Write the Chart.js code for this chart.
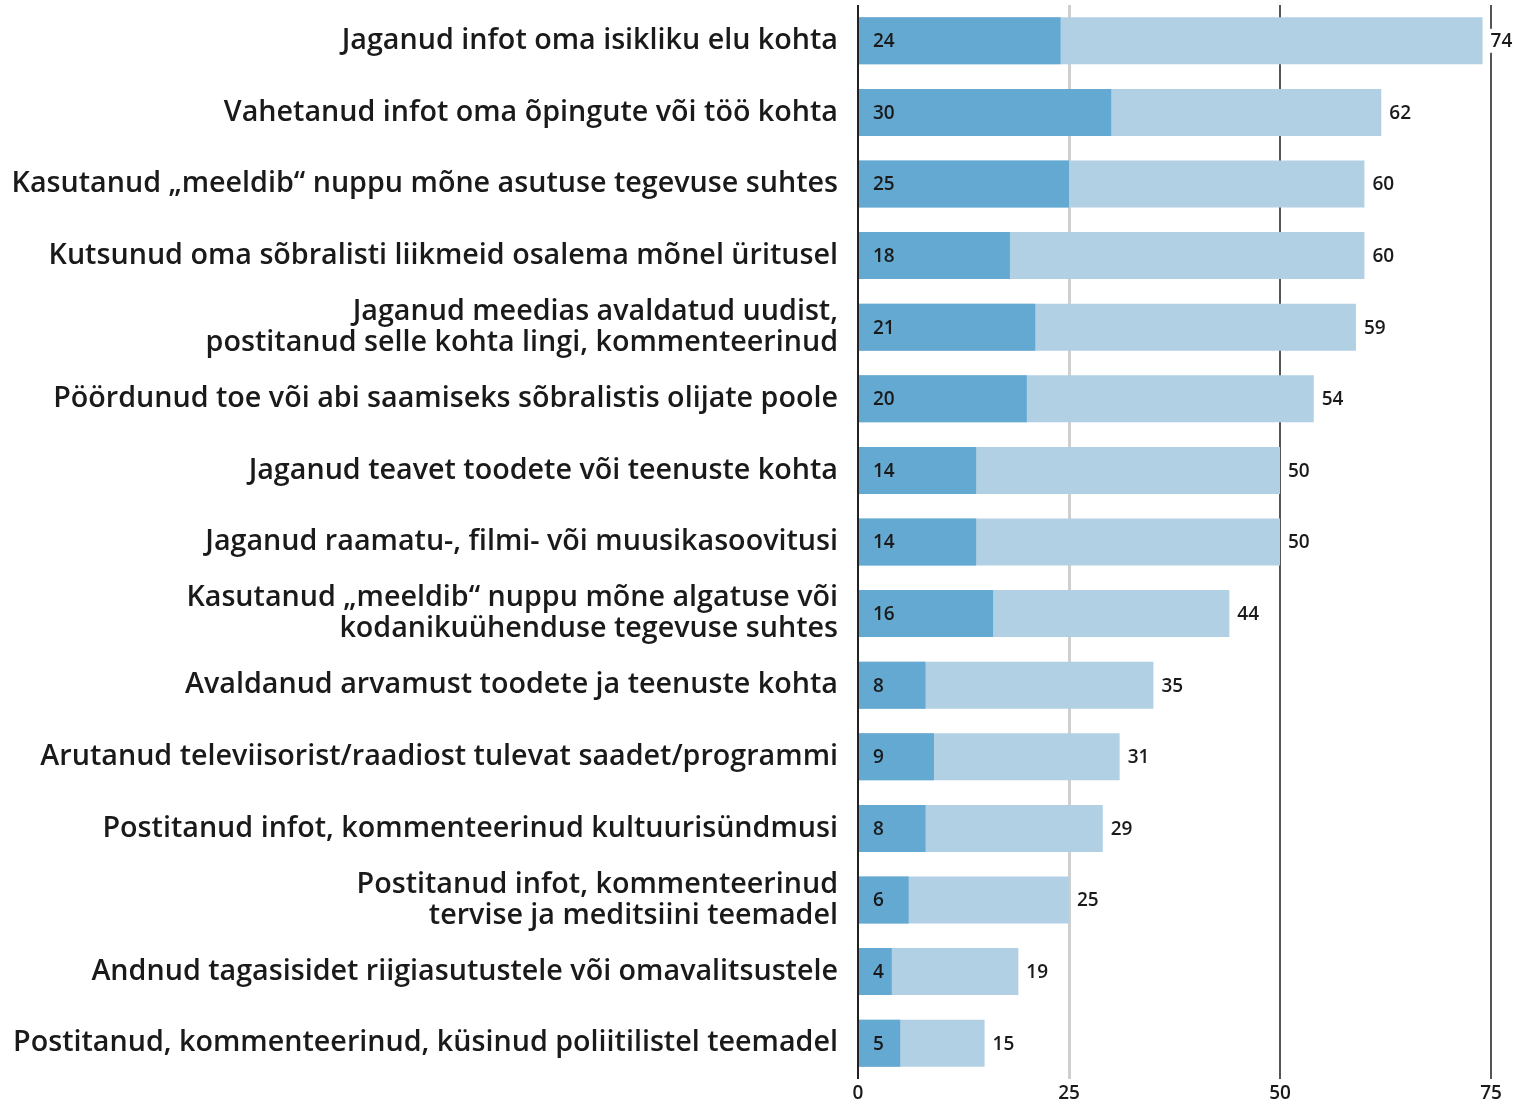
<!DOCTYPE html>
<html><head><meta charset="utf-8">
<script src="https://cdn.jsdelivr.net/npm/chart.js@4"></script>
<style>html,body{margin:0;padding:0;background:#fff}#wrap{width:1520px;height:1102px}</style>
</head><body><div id="wrap"><canvas id="c" width="1520" height="1102"></canvas></div>
<script>
const categories = [
  "Jaganud infot oma isikliku elu kohta",
  "Vahetanud infot oma õpingute või töö kohta",
  "Kasutanud „meeldib“ nuppu mõne asutuse tegevuse suhtes",
  "Kutsunud oma sõbralisti liikmeid osalema mõnel üritusel",
  ["Jaganud meedias avaldatud uudist,", "postitanud selle kohta lingi, kommenteerinud"],
  "Pöördunud toe või abi saamiseks sõbralistis olijate poole",
  "Jaganud teavet toodete või teenuste kohta",
  "Jaganud raamatu-, filmi- või muusikasoovitusi",
  ["Kasutanud „meeldib“ nuppu mõne algatuse või", "kodanikuühenduse tegevuse suhtes"],
  "Avaldanud arvamust toodete ja teenuste kohta",
  "Arutanud televiisorist/raadiost tulevat saadet/programmi",
  "Postitanud infot, kommenteerinud kultuurisündmusi",
  ["Postitanud infot, kommenteerinud", "tervise ja meditsiini teemadel"],
  "Andnud tagasisidet riigiasutustele või omavalitsustele",
  "Postitanud, kommenteerinud, küsinud poliitilistel teemadel"
];
const darkValues = [24, 30, 25, 18, 21, 20, 14, 14, 16, 8, 9, 8, 6, 4, 5];
const lightValues = [74, 62, 60, 60, 59, 54, 50, 50, 44, 35, 31, 29, 25, 19, 15];
const xTicks = [0, 25, 50, 75];

const numFont = '600 19px "Open Sans"';
const labelPlugin = {
  id: 'barLabels',
  afterDatasetsDraw(chart) {
    const ctx = chart.ctx;
    ctx.save();
    ctx.font = numFont;
    ctx.textBaseline = 'middle';
    const dMeta = chart.getDatasetMeta(0);
    const lMeta = chart.getDatasetMeta(1);
    dMeta.data.forEach((bar, i) => {
      ctx.fillStyle = '#1a1a1a';
      ctx.textAlign = 'left';
      ctx.fillText(String(darkValues[i]), bar.base + 14, bar.y + 1);
    });
    lMeta.data.forEach((bar, i) => {
      const t = String(lightValues[i]);
      const w = ctx.measureText(t).width;
      const x = bar.x + 8;
      ctx.fillStyle = '#fff';
      ctx.fillRect(x - 2, bar.y - 12, w + 4, 24);
      ctx.fillStyle = '#1a1a1a';
      ctx.textAlign = 'left';
      ctx.fillText(t, x, bar.y + 1);
    });
    ctx.restore();
  }
};

new Chart(document.getElementById('c'), {
  type: 'bar',
  data: {
    labels: categories,
    datasets: [
      { data: darkValues, backgroundColor: '#64a9d2', grouped: false, barPercentage: 0.657, categoryPercentage: 1 },
      { data: lightValues, backgroundColor: '#b2d0e3', grouped: false, barPercentage: 0.657, categoryPercentage: 1 }
    ]
  },
  options: {
    indexAxis: 'y',
    responsive: false,
    animation: false,
    devicePixelRatio: 1,
    layout: { padding: { top: 5, right: 29, left: 0, bottom: 0 } },
    plugins: { legend: { display: false }, tooltip: { enabled: false } },
    scales: {
      x: {
        min: 0, max: 75,
        afterBuildTicks(scale) { scale.ticks = xTicks.map(v => ({ value: v })); },
        afterFit(scale) { scale.height = 23; scale.paddingLeft = 0; scale.paddingRight = 0; },
        border: { display: false },
        grid: {
          drawTicks: false,
          color(ctx) { const v = ctx.tick && ctx.tick.value; return v === 0 ? '#222' : (v === 25 ? '#cfcfcf' : '#555'); },
          lineWidth(ctx) { const v = ctx.tick && ctx.tick.value; return v === 25 ? 3 : 2; }
        },
        ticks: { padding: 3, color: '#1a1a1a', font: { family: 'Open Sans', size: 19, weight: '600' }, maxRotation: 0 }
      },
      y: {
        afterFit(scale) { scale.width = 858; scale.paddingTop = 0; scale.paddingBottom = 0; },
        border: { display: false },
        grid: { display: false, drawTicks: false },
        ticks: { padding: 20, color: '#1a1a1a', font: { family: 'Open Sans', size: 28.7, weight: '600', lineHeight: 1.07 }, autoSkip: false }
      }
    }
  },
  plugins: [labelPlugin]
});
</script>
</body></html>
